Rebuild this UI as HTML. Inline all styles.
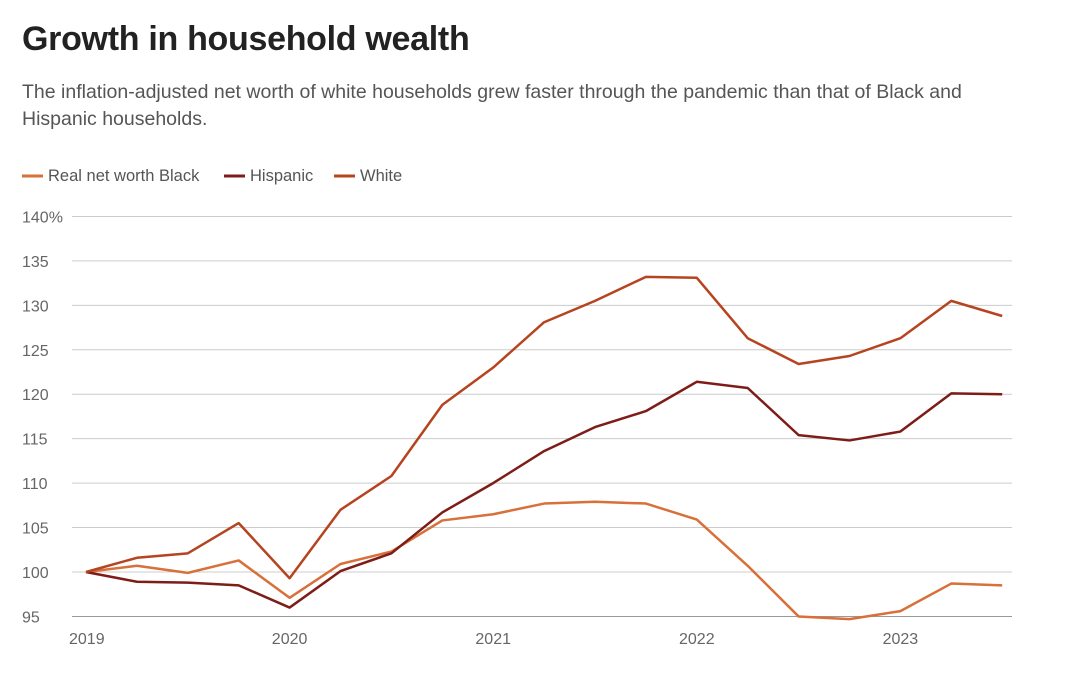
<!DOCTYPE html>
<html><head><meta charset="utf-8"><style>
body{margin:0;background:#fff;width:1080px;height:678px;overflow:hidden;font-family:"Liberation Sans",sans-serif}
h1{position:absolute;left:22px;top:20px;margin:0;font-size:34px;font-weight:bold;color:#222;letter-spacing:-0.3px}
p{position:absolute;left:22px;top:79px;margin:0;width:1000px;font-size:19.5px;line-height:27px;color:#555}
</style></head><body>
<h1>Growth in household wealth</h1>
<p>The inflation-adjusted net worth of white households grew faster through the pandemic than that of Black and Hispanic households.</p>
<svg id="c" width="1080" height="678" style="position:absolute;left:0;top:0" font-family="Liberation Sans, sans-serif"></svg>
<script>
const years=["2019","2020","2021","2022","2023"];
const yTicks=[95,100,105,110,115,120,125,130,135,140];
const seriesNames=["Real net worth Black","Hispanic","White"];
const black=[100,100.7,99.9,101.3,97.1,100.9,102.3,105.8,106.5,107.7,107.9,107.7,105.9,100.7,95.0,94.7,95.6,98.7,98.5];
const hispanic=[100,98.9,98.8,98.5,96.0,100.1,102.1,106.7,110.0,113.6,116.3,118.1,121.4,120.7,115.4,114.8,115.8,120.1,120.0];
const white=[100,101.6,102.1,105.5,99.3,107.0,110.8,118.8,123.0,128.1,130.5,133.2,133.1,126.3,123.4,124.3,126.3,130.5,128.8];
const colors=["#d8703a","#7e1c18","#b5441f"];
const svg=document.getElementById('c');const NS="http://www.w3.org/2000/svg";
const x=q=>86+q*50.9, y=v=>572-(v-100)*8.889;
function mk(t,a,p){const e=document.createElementNS(NS,t);for(const k in a)e.setAttribute(k,a[k]);(p||svg).appendChild(e);return e;}
yTicks.forEach(v=>{
 const l=mk('line',{x1:72,x2:1012,y1:y(v),y2:y(v),stroke:v==95?'#999':'#ccc','stroke-width':1});
 
 
 const t=mk('text',{x:22,y:y(v)+6,'font-size':16,fill:'#666'});t.textContent=v==140?'140%':v;
 
 
});
years.forEach((yr,i)=>{
 const t=mk('text',{x:x(i*4),y:644,'font-size':16,fill:'#666','text-anchor':'middle'});t.textContent=yr;
 if(i==0)t.setAttribute('x',69),t.setAttribute('text-anchor','start');
 
 
});
[black,hispanic,white].forEach((s,k)=>{
 const p=mk('polyline',{points:s.map((v,i)=>x(i)+','+y(v)).join(' '),fill:'none',stroke:colors[k],'stroke-width':2.5,'stroke-linejoin':'round'});
 
 
});
const lx=[22,224,334];
seriesNames.forEach((n,k)=>{
 const g=mk('g',{});
 
 
 mk('line',{x1:lx[k],x2:lx[k]+21,y1:176,y2:176,stroke:colors[k],'stroke-width':3},g);
 const t=mk('text',{x:lx[k]+26,y:181,'font-size':16.5,fill:'#555'},g);t.textContent=n;
});
</script>
</body></html>
